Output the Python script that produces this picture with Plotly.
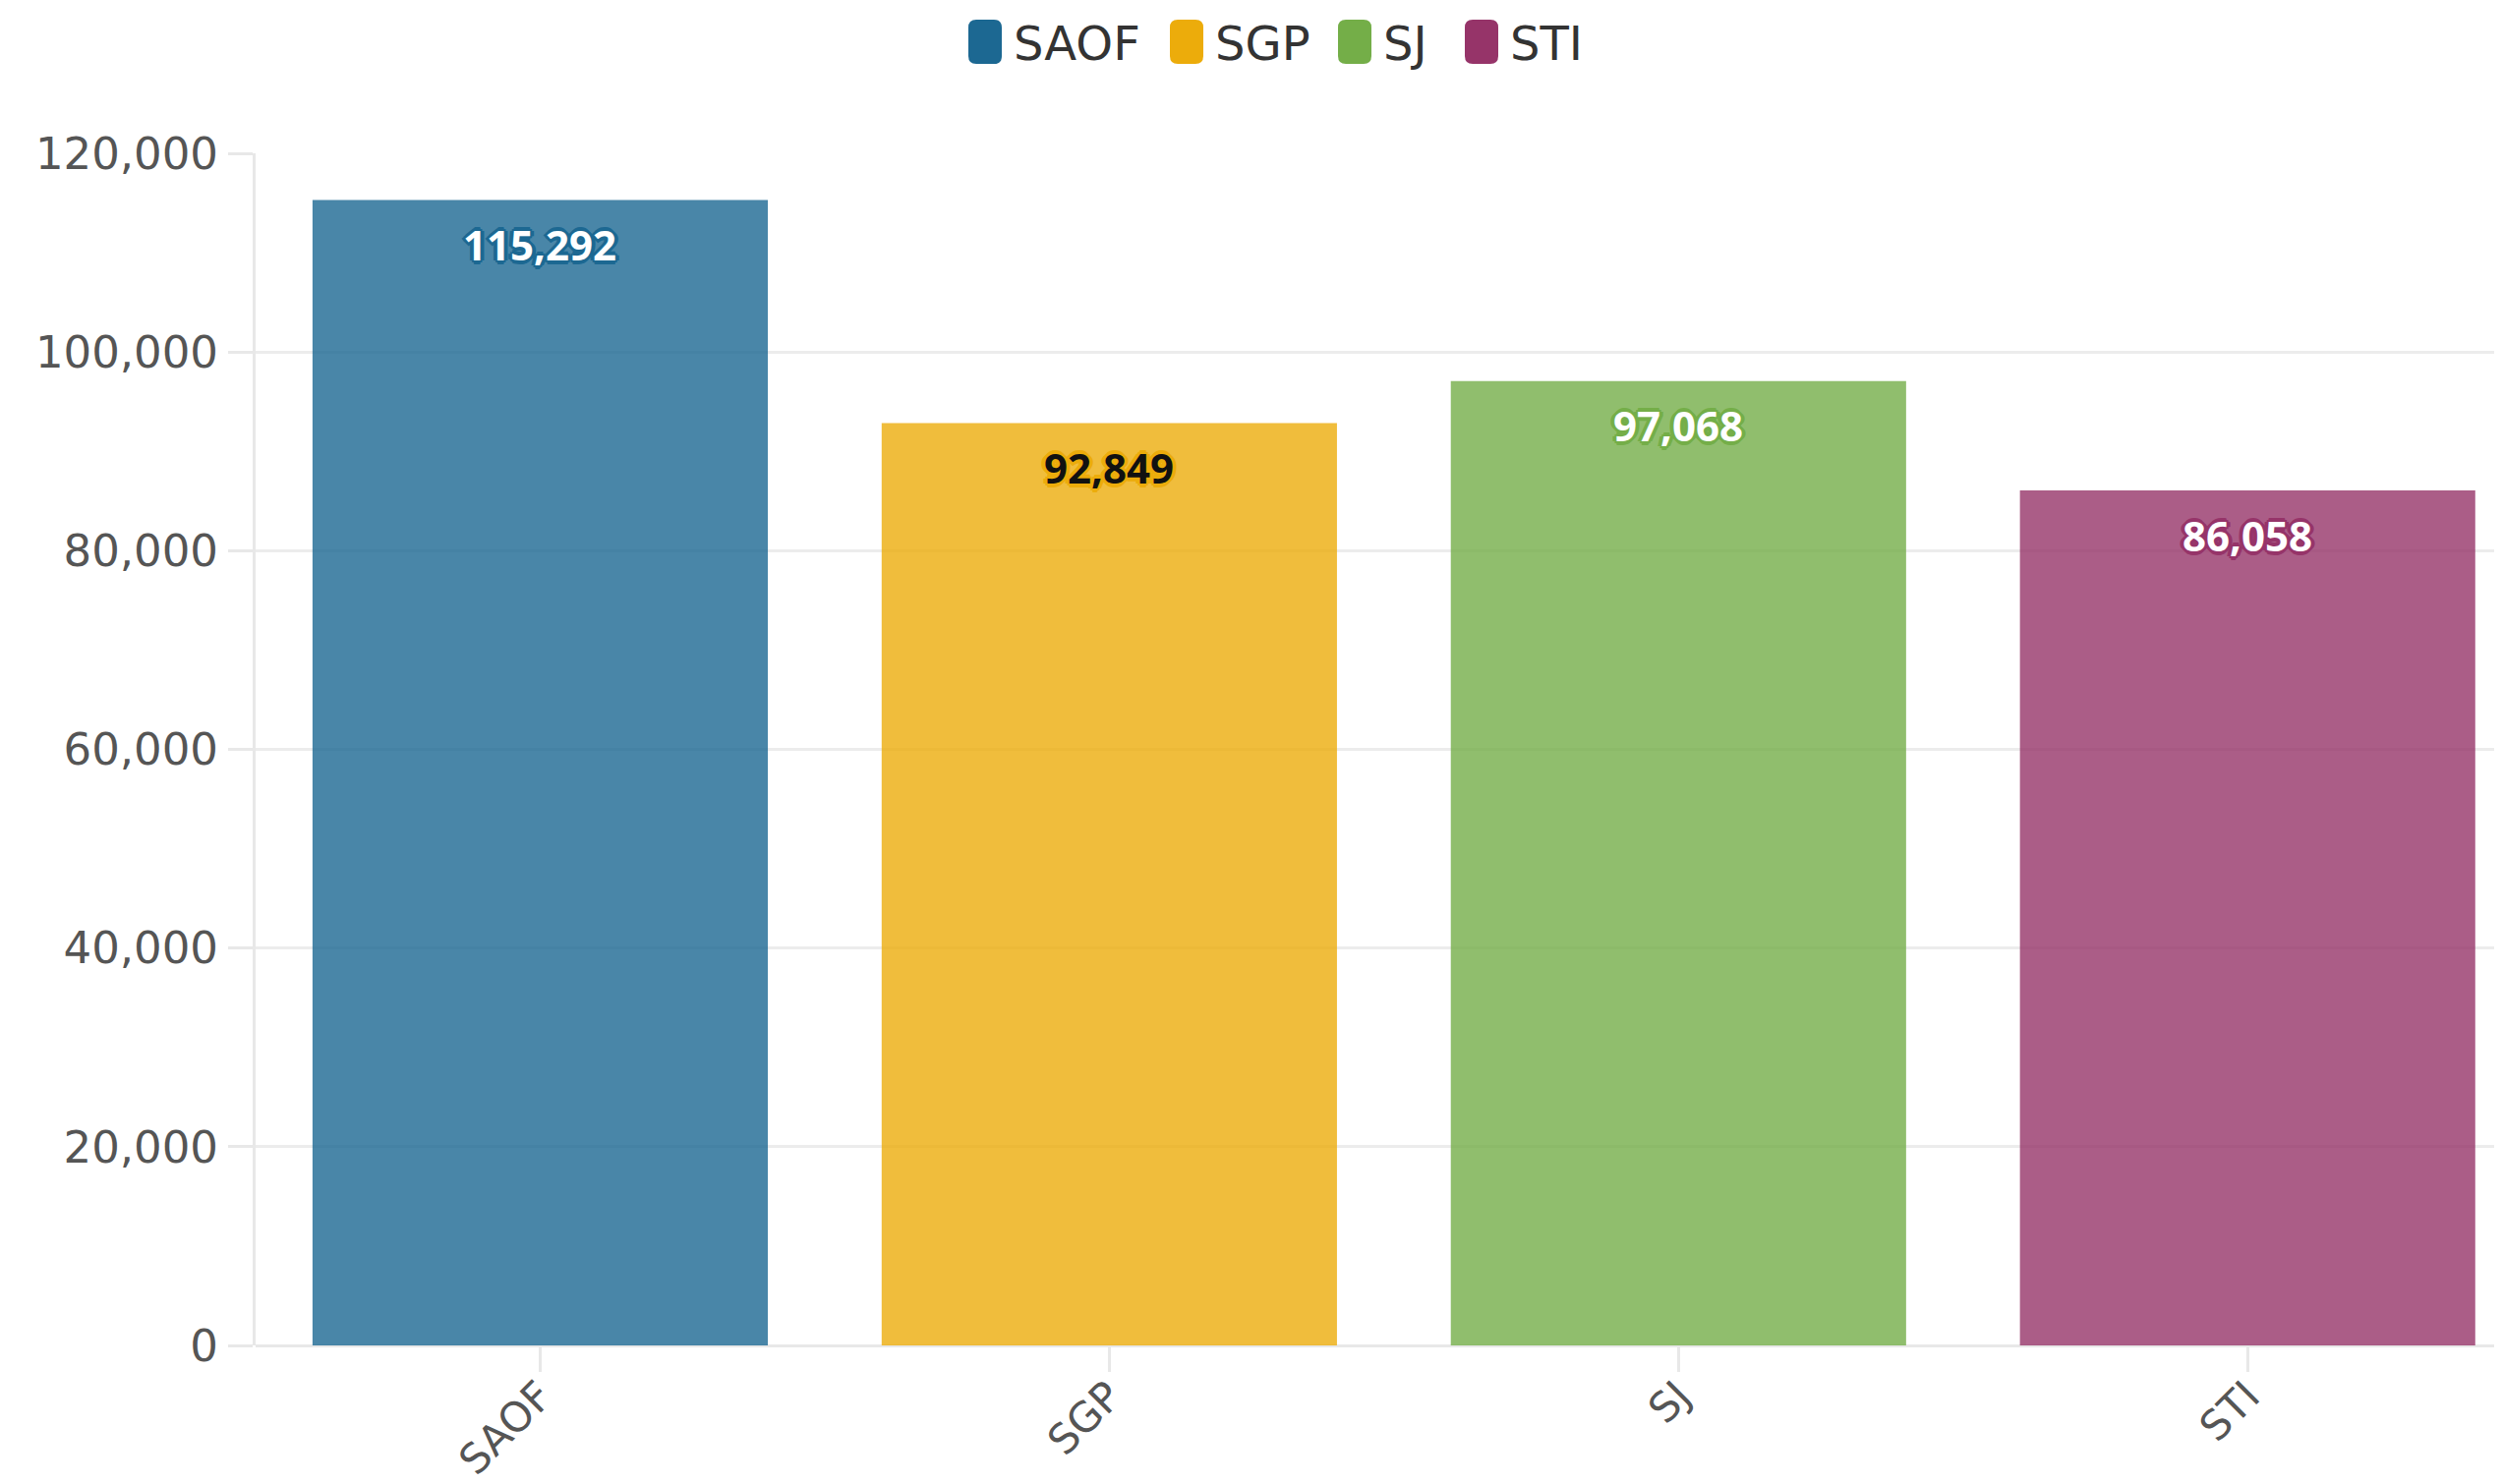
import plotly.graph_objects as go

# ---- data ----
categories = ["SAOF", "SGP", "SJ", "STI"]
values = [115292, 92849, 97068, 86058]
y_ticks = [0, 20000, 40000, 60000, 80000, 100000, 120000]

# ---- styles ----
colors = ["#1c6892", "#ecac0b", "#74ae48", "#963469"]
label_text_colors = ["#ffffff", "#111111", "#ffffff", "#ffffff"]
FONT = "DejaVu Sans"
LABEL_FONT = "Noto Sans"
OFF = 8  # page body margin
W, H = 2545 - OFF, 1510 - OFF
ML, MR, MT, MB = 260 - OFF, 0, 156 - OFF, 141
PW, PH = W - ML - MR, H - MT - MB

def px_x(px):
    return (px - OFF - ML) / PW

def px_y(py):
    return (H - MB - (py - OFF)) / PH

def rounded_rect(x0, y0, x1, y1, r):
    def P(x, y):
        return f"{px_x(x):.6f},{px_y(y):.6f}"
    return (
        f"M {P(x0 + r, y0)} L {P(x1 - r, y0)} Q {P(x1, y0)} {P(x1, y0 + r)} "
        f"L {P(x1, y1 - r)} Q {P(x1, y1)} {P(x1 - r, y1)} "
        f"L {P(x0 + r, y1)} Q {P(x0, y1)} {P(x0, y1 - r)} "
        f"L {P(x0, y0 + r)} Q {P(x0, y0)} {P(x0 + r, y0)} Z"
    )

fig = go.Figure()
fig.add_trace(go.Bar(
    x=categories, y=values,
    marker=dict(color=colors, opacity=0.8, line=dict(width=0)),
    width=0.8, showlegend=False, hoverinfo="x+y",
))

shapes = []
annotations = []

# data labels with halo
for c, v, col, tc in zip(categories, values, colors, label_text_colors):
    halo = ", ".join(f"{dx}px {dy}px 0 {col}" for dx, dy in
                     [(3, 0), (-3, 0), (0, 3), (0, -3), (2, 2), (-2, -2), (2, -2), (-2, 2), (4, 0), (-4, 0), (0, 4), (0, -4)])
    annotations.append(dict(
        x=c, y=v, xref="x", yref="y", text=f"{v:,}", showarrow=False,
        yshift=-45, yanchor="middle", xanchor="center",
        font=dict(family=LABEL_FONT, size=42, color=tc, weight="bold", shadow=halo),
    ))

# custom legend
legend_x_px = [985, 1190, 1361, 1490]
sym_w, sym_top, sym_bot, gap = 34, 20, 65, 13
for c, col, lx in zip(categories, colors, legend_x_px):
    shapes.append(dict(type="path", xref="paper", yref="paper",
                       path=rounded_rect(lx, sym_top, lx + sym_w, sym_bot, 8),
                       fillcolor=col, line=dict(width=0)))
    annotations.append(dict(
        x=px_x(lx + sym_w + gap - 3), y=px_y(44), xref="paper", yref="paper",
        text=c, showarrow=False, xanchor="left", yanchor="middle",
        font=dict(family=FONT, size=48, color="#333333"),
    ))

fig.update_layout(
    width=W, height=H,
    margin=dict(l=ML, r=MR, t=MT, b=MB, pad=0, autoexpand=False),
    paper_bgcolor="white", plot_bgcolor="white",
    bargap=0.2,
    font=dict(family=FONT, size=45, color="#555555"),
    xaxis=dict(
        range=[-0.5, 3.447], tickangle=-45, automargin=False,
        ticks="outside", ticklen=26, tickwidth=3, tickcolor="#e8e8e8",
        showgrid=False, showline=False, zeroline=False,
        ticklabelstandoff=-17,
        tickfont=dict(family=FONT, size=42, color="#555555"),
    ),
    yaxis=dict(
        range=[0, 120000], tickvals=y_ticks, tickformat=",d", automargin=False,
        ticks="outside", ticklen=25, tickwidth=3, tickcolor="#e8e8e8",
        showgrid=True, gridcolor="#ececec", gridwidth=3,
        showline=True, linecolor="#e8e8e8", linewidth=3,
        zeroline=True, zerolinecolor="#e8e8e8", zerolinewidth=3,
        ticklabelstandoff=1,
        tickfont=dict(family=FONT, size=45, color="#555555"),
    ),
    shapes=shapes,
    annotations=annotations,
    showlegend=False,
)

fig.write_html("out.html")
